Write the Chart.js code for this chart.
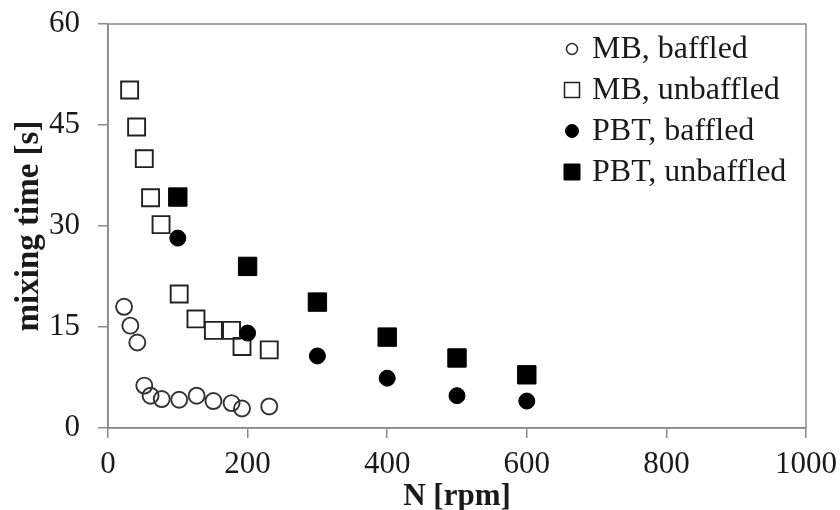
<!DOCTYPE html>
<html>
<head>
<meta charset="utf-8">
<script src="https://cdn.jsdelivr.net/npm/chart.js@4"></script>
<style>
  html, body { margin: 0; padding: 0; background: #fff; }
  #wrap { width: 840px; height: 510px; }
</style>
</head>
<body>
<div id="wrap"><canvas id="chart"></canvas></div>
<script>
// ================= DATA =================
const mbBaffledN    = [23, 32, 42, 52, 61, 77, 102, 127, 151, 177, 192, 231];
const mbBaffledT    = [18.0, 15.2, 12.7, 6.3, 4.8, 4.3, 4.2, 4.8, 4.0, 3.7, 2.9, 3.2];

const mbUnbaffledN  = [31, 41, 52, 61, 76, 102, 126, 151, 177, 192, 231];
const mbUnbaffledT  = [50.2, 44.7, 40.0, 34.2, 30.2, 19.9, 16.2, 14.5, 14.5, 12.1, 11.6];

const pbtN          = [100, 200, 300, 400, 500, 600];
const pbtBaffledT   = [28.2, 14.1, 10.7, 7.4, 4.8, 4.0];
const pbtUnbaffledT = [34.3, 24.0, 18.7, 13.5, 10.4, 7.9];

const xTicks = [0, 200, 400, 600, 800, 1000];
const yTicks = [0, 15, 30, 45, 60];

const toPoints = (xs, ys) => xs.map((x, i) => ({ x: x, y: ys[i] }));

const SERIF = "'Liberation Serif', 'Times New Roman', serif";
const INK = "#1a1a1a";
const AXIS = "#8a8a8a";

// ================= PLUGINS =================
// grey box around the plot area
const frame = {
  id: "frame",
  beforeDatasetsDraw(chart) {
    const { ctx, chartArea: a } = chart;
    ctx.save();
    ctx.strokeStyle = AXIS;
    ctx.lineWidth = 1.5;
    ctx.strokeRect(a.left, a.top, a.right - a.left, a.bottom - a.top);
    ctx.restore();
  }
};

// legend drawn inside the plot, top right
const innerLegend = {
  id: "innerLegend",
  afterDraw(chart) {
    const { ctx, chartArea: a } = chart;
    const sizes = [5.5, 7.5, 6.5, 8];
    ctx.save();
    ctx.font = "32px " + SERIF;
    ctx.textBaseline = "middle";
    chart.data.datasets.forEach((ds, i) => {
      const mx = a.right - 234;
      const my = a.top + 25 + i * 41;
      ctx.fillStyle = ds.backgroundColor;
      ctx.strokeStyle = ds.borderColor;
      ctx.lineWidth = Math.min(ds.borderWidth, 1.5);
      ctx.beginPath();
      if (ds.pointStyle === "rect") {
        const s = sizes[i];
        ctx.rect(mx - s, my - s, 2 * s, 2 * s);
      } else {
        ctx.arc(mx, my, sizes[i], 0, Math.PI * 2);
      }
      ctx.fill();
      ctx.stroke();
      ctx.fillStyle = INK;
      ctx.fillText(ds.label, mx + 20, my + 1);
    });
    ctx.restore();
  }
};

// ================= CREATE CHART =================
const ctx = document.getElementById("chart").getContext("2d");

new Chart(ctx, {
  type: "scatter",
  data: {
    datasets: [
      {
        label: "MB, baffled",
        data: toPoints(mbBaffledN, mbBaffledT),
        pointStyle: "circle",
        pointRadius: 8,
        borderColor: "#333",
        backgroundColor: "rgba(0,0,0,0)",
        borderWidth: 1.9,
        order: 3
      },
      {
        label: "MB, unbaffled",
        data: toPoints(mbUnbaffledN, mbUnbaffledT),
        pointStyle: "rect",
        pointRadius: 12,
        borderColor: "#222",
        backgroundColor: "rgba(0,0,0,0)",
        borderWidth: 1.9,
        order: 2
      },
      {
        label: "PBT, baffled",
        data: toPoints(pbtN, pbtBaffledT),
        pointStyle: "circle",
        pointRadius: 8,
        borderColor: "#000",
        backgroundColor: "#000",
        borderWidth: 1,
        order: 0
      },
      {
        label: "PBT, unbaffled",
        data: toPoints(pbtN, pbtUnbaffledT),
        pointStyle: "rect",
        pointRadius: 13,
        borderColor: "#000",
        backgroundColor: "#000",
        borderWidth: 1,
        order: 1
      }
    ]
  },
  options: {
    responsive: true,
    maintainAspectRatio: false,
    animation: false,
    layout: {
      padding: { top: 24, right: 34, bottom: 0, left: 0 }
    },
    plugins: {
      legend: { display: false },
      tooltip: { enabled: false }
    },
    scales: {
      x: {
        type: "linear",
        min: 0,
        max: 1000,
        afterFit(scale) {
          scale.height = 82;
          scale.paddingLeft = 0;
          scale.paddingRight = 0;
        },
        afterBuildTicks(scale) { scale.ticks = xTicks.map(v => ({ value: v })); },
        border: { color: AXIS, width: 1.5 },
        grid: { drawOnChartArea: false, drawTicks: true, tickLength: 10, color: AXIS, lineWidth: 1.5 },
        ticks: {
          padding: 8,
          color: INK,
          font: { family: SERIF, size: 31 },
          maxRotation: 0,
          callback: v => String(v)
        },
        title: {
          display: true,
          text: "N [rpm]",
          color: INK,
          font: { family: SERIF, size: 31, weight: "bold", lineHeight: 0.85 },
          padding: { top: 0, bottom: 0 }
        }
      },
      y: {
        type: "linear",
        min: 0,
        max: 60,
        afterFit(scale) {
          scale.width = 108;
          scale.paddingTop = 0;
          scale.paddingBottom = 0;
        },
        afterBuildTicks(scale) { scale.ticks = yTicks.map(v => ({ value: v })); },
        border: { color: AXIS, width: 1.5 },
        grid: { drawOnChartArea: false, drawTicks: true, tickLength: 10, color: AXIS, lineWidth: 1.5 },
        ticks: {
          padding: 18,
          color: INK,
          font: { family: SERIF, size: 31 },
          callback: v => String(v)
        },
        title: {
          display: true,
          text: "mixing time [s]",
          color: INK,
          font: { family: SERIF, size: 33, weight: "bold", lineHeight: 1.2 },
          padding: { top: 10, bottom: 0 }
        }
      }
    }
  },
  plugins: [frame, innerLegend]
});
</script>
</body>
</html>
